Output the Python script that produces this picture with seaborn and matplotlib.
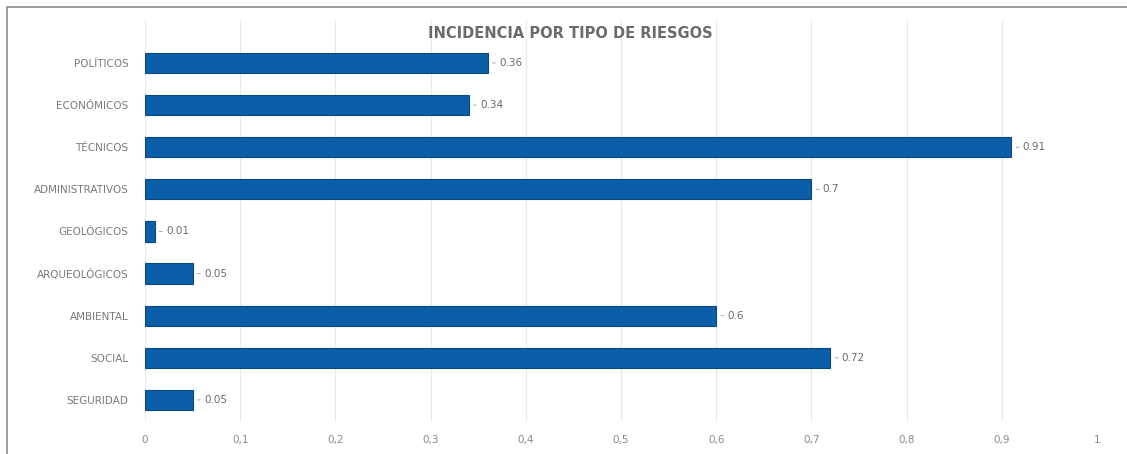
import matplotlib
matplotlib.use("Agg")
import matplotlib.pyplot as plt
import seaborn as sns
import pandas as pd
from matplotlib.patches import Rectangle

categories = ["POLÍTICOS", "ECONÓMICOS", "TÉCNICOS", "ADMINISTRATIVOS", "GEOLÓGICOS",
              "ARQUEOLÓGICOS", "AMBIENTAL", "SOCIAL", "SEGURIDAD"]
values = [0.36, 0.34, 0.91, 0.7, 0.01, 0.05, 0.6, 0.72, 0.05]
value_labels = ["0.36", "0.34", "0.91", "0.7", "0.01", "0.05", "0.6", "0.72", "0.05"]
xticks = [0, 0.1, 0.2, 0.3, 0.4, 0.5, 0.6, 0.7, 0.8, 0.9, 1]
xtick_labels = ["0", "0,1", "0,2", "0,3", "0,4", "0,5", "0,6", "0,7", "0,8", "0,9", "1"]
title = "INCIDENCIA POR TIPO DE RIESGOS"

sns.set_theme(style="white")
plt.rcParams['font.family'] = ['DejaVu Sans']

df = pd.DataFrame({"cat": categories, "val": values})

fig = plt.figure(figsize=(11.27, 4.54), dpi=100)
ax = fig.add_axes([145/1127, 1 - 421/454, (1097-145)/1127, (421-20)/454])

sns.barplot(data=df, x="val", y="cat", orient="h", color="#0B5EA8", saturation=1,
            width=0.48, ax=ax, edgecolor="#09497F", linewidth=0.8)

ax.set_xlim(0, 1)
ax.set_ylim(8.5, -1.02)
ax.set_xticks(xticks)
ax.set_xticklabels(xtick_labels, color="#8a8a8a", fontsize=7.5)
ax.tick_params(axis="y", labelsize=7.5, labelcolor="#7a7a7a", length=0, pad=12)
ax.tick_params(axis="x", length=0, pad=10)
ax.set_xlabel("")
ax.set_ylabel("")
ax.grid(axis="x", color="#e8e8e8", linewidth=0.8)
ax.set_axisbelow(True)
for s in ax.spines.values():
    s.set_visible(False)

for i, (v, lab) in enumerate(zip(values, value_labels)):
    ax.annotate("", xy=(v + 0.002, i), xytext=(v + 0.011, i),
                arrowprops=dict(arrowstyle="-", color="#9a9a9a", lw=0.6))
    ax.text(v + 0.012, i, lab, va="center", ha="left", fontsize=7.5, color="#6a6a6a")

fig.text(570/1127, 1 - 34/454, title, ha="center", va="center", fontsize=10.5,
         fontweight="bold", color="#6b6b6b")

fig.patches.append(Rectangle((7/1127, -0.1), 1.2, 1 - 7/454 + 0.1, transform=fig.transFigure,
                             fill=False, edgecolor="#8c8c8c", linewidth=1.2))

fig.savefig("out.png", dpi=100)
